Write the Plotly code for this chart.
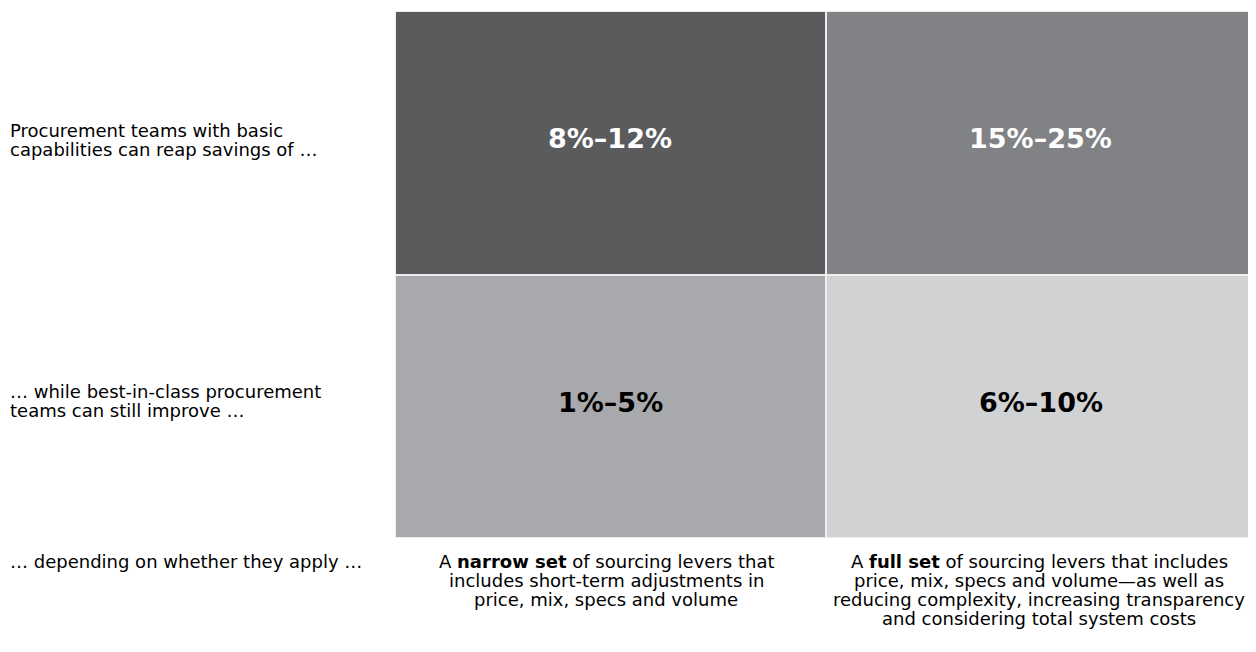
import plotly.graph_objects as go

# ---------------- Data ----------------
columns = ["narrow", "full"]
rows = ["basic", "best"]
cell_values = [["8%–12%", "15%–25%"], ["1%–5%", "6%–10%"]]
cell_colors = [["#5a5b5d", "#818286"], ["#a8a9ad", "#d1d2d4"]]
cell_text_colors = [["#ffffff", "#ffffff"], ["#000000", "#000000"]]
row_labels = [
    ["Procurement teams with basic", "capabilities can reap savings of …"],
    ["… while best-in-class procurement", "teams can still improve …"],
]
bottom_left_label = ["… depending on whether they apply …"]
column_labels = [
    ["A <b>narrow set</b> of sourcing levers that",
     "includes short-term adjustments in",
     "price, mix, specs and volume"],
    ["A <b>full set</b> of sourcing levers that includes",
     "price, mix, specs and volume—as well as",
     "reducing complexity, increasing transparency",
     "and considering total system costs"],
]

# ---------------- Layout (page pixels) ----------------
FONT = "'DejaVu Sans', Verdana, sans-serif"
OFF = 8                      # page body margin
W, H = 1256 - OFF, 652 - 2 * OFF - 6
PLOT_L, PLOT_R, PLOT_T, PLOT_B = 395, 1256, 11, 538   # page coordinates of the grid
L = PLOT_L - OFF
R = (OFF + W) - PLOT_R
T = PLOT_T - OFF
B = (OFF + H) - PLOT_B
PW, PH = W - L - R, H - T - B


def px(xp):
    return (xp - PLOT_L) / PW


def py(yp):
    return 1 - (yp - PLOT_T) / PH


LABEL_SIZE = 18
VALUE_SIZE = 27

flat_colors = [c for row in cell_colors for c in row]
n = len(flat_colors)
z = [[r * len(columns) + c for c in range(len(columns))] for r in range(len(rows))]
colorscale = [[i / (n - 1), col] for i, col in enumerate(flat_colors)]

fig = go.Figure(
    go.Heatmap(
        z=z, x=columns, y=rows,
        colorscale=colorscale, zmin=0, zmax=n - 1,
        showscale=False, xgap=2, ygap=2, hoverinfo="skip",
    )
)

annotations = []
# values inside the cells
for ri, r in enumerate(rows):
    for ci, c in enumerate(columns):
        annotations.append(dict(
            x=c, y=r, xref="x", yref="y", text=f"<b>{cell_values[ri][ci]}</b>",
            yshift=4, showarrow=False,
            font=dict(family=FONT, size=VALUE_SIZE, color=cell_text_colors[ri][ci]),
        ))


def add_lines(lines, x_page, first_baseline, spacing, anchor):
    for k, line in enumerate(lines):
        base = first_baseline + k * spacing
        annotations.append(dict(
            x=px(x_page), y=py(base - 0.32 * LABEL_SIZE), xref="paper", yref="paper",
            text=line, xanchor=anchor, yanchor="middle", showarrow=False,
            font=dict(family=FONT, size=LABEL_SIZE, color="#000000"),
        ))


row_first_baselines = [136.5, 397.5]
for ri in range(len(rows)):
    add_lines(row_labels[ri], 8, row_first_baselines[ri], 19, "left")
add_lines(bottom_left_label, 8, 567, 19, "left")
col_centers = [606, 1039]
for ci in range(len(columns)):
    add_lines(column_labels[ci], col_centers[ci], 567, 19, "center")

fig.update_layout(
    width=W, height=H,
    margin=dict(l=L, r=R, t=T, b=B, pad=0),
    paper_bgcolor="#ffffff",
    plot_bgcolor="#eeeeee",
    annotations=annotations,
)
fig.update_xaxes(showticklabels=False, showgrid=False, zeroline=False, ticks="")
fig.update_yaxes(showticklabels=False, showgrid=False, zeroline=False, ticks="", autorange="reversed")

fig.write_html("out.html")
